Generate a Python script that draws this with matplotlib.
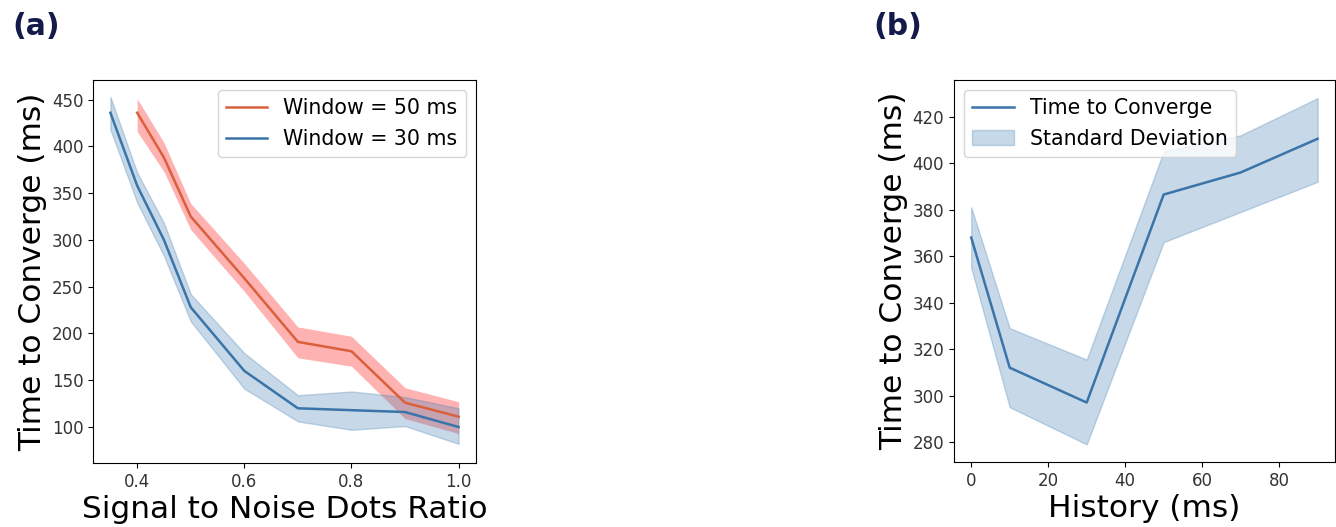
import numpy as np
import matplotlib
matplotlib.use("Agg")
import matplotlib.pyplot as plt

# ------------------------------------------------------
# Data
# ------------------------------------------------------
snr_30 = [0.35, 0.4, 0.45, 0.5, 0.6, 0.7, 0.8, 0.9, 1.0]
mean_30 = [436, 358, 300, 228, 160, 120, 118, 116, 100]
upper_30 = [453, 372, 318, 242, 179, 134, 138, 132, 120]
lower_30 = [418, 340, 283, 213, 141, 106, 97, 101, 82]

snr_50 = [0.4, 0.45, 0.5, 0.6, 0.7, 0.8, 0.9, 1.0]
mean_50 = [436, 388, 325, 259, 191, 181, 126, 111]
upper_50 = [451, 404, 339, 275, 207, 197, 142, 127]
lower_50 = [416, 373, 311, 245, 174, 165, 109, 93]

history = [0, 10, 30, 50, 70, 90]
conv_time = [368, 312, 297, 386.5, 396, 410.5]
conv_upper = [381, 329, 315.5, 405, 412, 428]
conv_lower = [355, 295, 279, 366, 379, 392]

RED_LINE = "#d9603b"
BLUE_LINE = "#3a74a8"
LABEL_COLOR = "#141a4a"
TICK_COLOR = "#333333"

# ------------------------------------------------------
# Figure
# ------------------------------------------------------
fig = plt.figure(figsize=(13.36, 5.27), dpi=100)
ax1 = fig.add_axes([0.0696, 0.1214, 0.2867, 0.7268])
ax2 = fig.add_axes([0.714, 0.1233, 0.2852, 0.7249])

# (a) time to converge vs signal/noise ratio
ax1.plot(snr_50, mean_50, color=RED_LINE, lw=1.8, label="Window = 50 ms")
ax1.fill_between(snr_50, lower_50, upper_50, color="red", alpha=0.3, lw=0)
ax1.plot(snr_30, mean_30, color=BLUE_LINE, lw=1.8, label="Window = 30 ms")
ax1.fill_between(snr_30, lower_30, upper_30, color="steelblue", alpha=0.3)
ax1.set_ylim(61.5, 471)
ax1.set_xticks([0.4, 0.6, 0.8, 1.0])
ax1.set_yticks([100, 150, 200, 250, 300, 350, 400, 450])
ax1.set_xlabel("Signal to Noise Dots Ratio", fontsize=22.5, labelpad=3)
ax1.set_ylabel("Time to Converge (ms)", fontsize=22.5, labelpad=3)
ax1.tick_params(labelsize=12, labelcolor=TICK_COLOR)
ax1.legend(loc="upper right", fontsize=14.8, handlelength=2)

# (b) time to converge vs history
ax2.plot(history, conv_time, color=BLUE_LINE, lw=1.8, label="Time to Converge")
ax2.fill_between(history, conv_lower, conv_upper, color="steelblue", alpha=0.3,
                 label="Standard Deviation")
ax2.set_ylim(271.4, 435.8)
ax2.set_xticks([0, 20, 40, 60, 80])
ax2.set_yticks([280, 300, 320, 340, 360, 380, 400, 420])
ax2.set_xlabel("History (ms)", fontsize=22.5, labelpad=3)
ax2.set_ylabel("Time to Converge (ms)", fontsize=22.5, labelpad=3)
ax2.tick_params(labelsize=12, labelcolor=TICK_COLOR)
ax2.legend(loc="upper left", fontsize=14.8, handlelength=2)

fig.text(0.009, 0.977, "(a)", fontsize=21.5, fontweight="bold", color=LABEL_COLOR,
         va="top", ha="left")
fig.text(0.654, 0.977, "(b)", fontsize=21.5, fontweight="bold", color=LABEL_COLOR,
         va="top", ha="left")

fig.savefig("out.png", dpi=100)
